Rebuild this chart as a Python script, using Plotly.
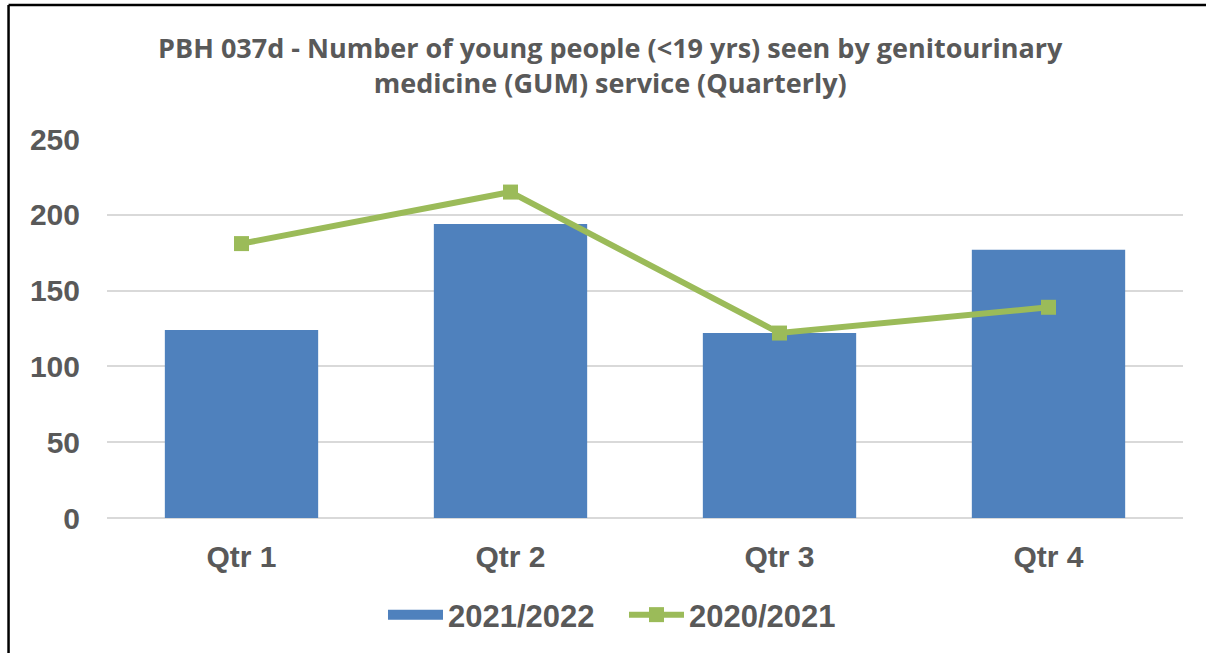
import plotly.graph_objects as go

# Quarterly counts of young people (<19 yrs) seen by GUM service
quarters = ["Qtr 1", "Qtr 2", "Qtr 3", "Qtr 4"]
values_2021_22 = [124, 194, 122, 177]
values_2020_21 = [181, 215, 122, 139]

y_ticks = [0, 50, 100, 150, 200, 250]

BLUE = "#4F81BD"
GREEN = "#9BBB59"
GREY_TEXT = "#595959"
GRID = "#D9D9D9"

fig = go.Figure()

fig.add_trace(go.Bar(
    x=quarters,
    y=values_2021_22,
    name="2021/2022",
    marker=dict(color=BLUE, line=dict(width=0)),
    width=0.57,
    showlegend=False,
))

# Legend key for the bars: a wide filled block
fig.add_trace(go.Scatter(
    x=[None],
    y=[None],
    name="2021/2022",
    mode="lines",
    line=dict(color=BLUE, width=14),
    hoverinfo="skip",
))

fig.add_trace(go.Scatter(
    x=quarters,
    y=values_2020_21,
    name="2020/2021",
    mode="lines+markers",
    line=dict(color=GREEN, width=6),
    marker=dict(symbol="square", size=15, color=GREEN),
))

# Chart frame (left and top edges of the chart area)
frame = dict(color="black", width=2.5)
fig.add_shape(type="line", xref="paper", yref="paper",
              x0=-0.0915, x1=-0.0915, y0=-0.5, y1=1.3535, line=frame)
fig.add_shape(type="line", xref="paper", yref="paper",
              x0=-0.0915, x1=1.2, y0=1.3535, y1=1.3535, line=frame)

tick_font = dict(family="Liberation Sans, Arial", size=30, color=GREY_TEXT, weight="bold")

fig.update_layout(
    width=1206,
    height=653,
    margin=dict(l=107, r=23, t=139, b=134),
    paper_bgcolor="white",
    plot_bgcolor="white",
    title=dict(
        text="PBH 037d - Number of young people (<19 yrs) seen by genitourinary<br>medicine (GUM) service (Quarterly)",
        x=0.506,
        xanchor="center",
        y=0.911,
        yanchor="middle",
        yref="container",
        font=dict(family="Open Sans", size=27, color=GREY_TEXT, weight="bold"),
    ),
    xaxis=dict(
        showgrid=False,
        showline=False,
        zeroline=False,
        ticks="",
        ticklabelstandoff=18,
        tickfont=tick_font,
    ),
    yaxis=dict(
        range=[0, 250],
        tickvals=y_ticks,
        showgrid=True,
        gridcolor=GRID,
        gridwidth=1.5,
        zeroline=True,
        zerolinecolor=GRID,
        zerolinewidth=1.5,
        showline=False,
        ticks="",
        ticklabelstandoff=26,
        tickfont=tick_font,
    ),
    legend=dict(
        orientation="h",
        x=0.2565,
        xanchor="left",
        y=-0.2526,
        yanchor="middle",
        font=dict(family="Liberation Sans, Arial", size=31, color=GREY_TEXT, weight="bold"),
        itemwidth=55,
        entrywidth=171,
        bgcolor="rgba(0,0,0,0)",
    ),
    showlegend=True,
    bargap=0.43,
)

fig.write_html("out.html")
